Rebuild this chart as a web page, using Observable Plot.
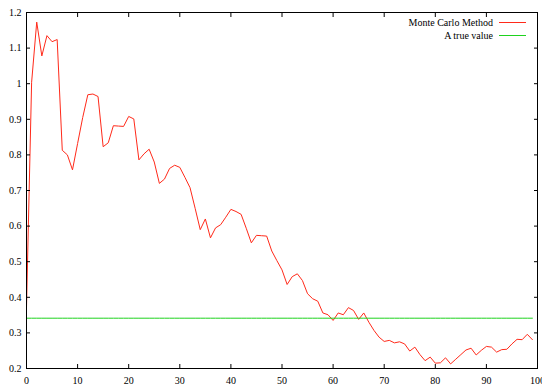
<!DOCTYPE html>
<html><head><meta charset="utf-8">
<script src="https://cdn.jsdelivr.net/npm/d3@7"></script>
<script src="https://cdn.jsdelivr.net/npm/@observablehq/plot@0.6"></script>
<style>
body{margin:0;background:#fff;}
#wrap{position:relative;width:542px;height:390px;overflow:hidden;}
#wrap svg, #wrap svg text{font-family:"Liberation Serif","Times New Roman",serif !important;font-size:10px;}
#legend{position:absolute;top:16px;right:16px;font-family:"Liberation Serif","Times New Roman",serif;font-size:10px;color:#000;}
.row{display:flex;align-items:center;justify-content:flex-end;height:13px;}
.sw{display:inline-block;width:27px;height:0;margin-left:6px;border-top:1px solid;}
</style>
</head><body>
<div id="wrap"><div id="legend"></div></div>
<script>
const seriesNames = ["Monte Carlo Method", "A true value"];
const seriesColors = ["#ff2a1a", "#1ed21e"];
const trueValue = 0.3413;
const mcValues = [
 0.37, 1.004, 1.173, 1.078, 1.135, 1.118, 1.124, 0.813, 0.800, 0.758,
 0.832, 0.905, 0.969, 0.971, 0.964, 0.823, 0.834, 0.882, 0.881, 0.880,
 0.908, 0.901, 0.786, 0.803, 0.816, 0.780, 0.720, 0.732, 0.762, 0.771,
 0.765, 0.737, 0.708, 0.650, 0.590, 0.620, 0.567, 0.595, 0.604, 0.625,
 0.647, 0.641, 0.633, 0.594, 0.553, 0.574, 0.573, 0.572, 0.530, 0.503,
 0.477, 0.436, 0.458, 0.466, 0.447, 0.410, 0.396, 0.389, 0.356, 0.351,
 0.335, 0.356, 0.351, 0.371, 0.363, 0.338, 0.356, 0.330, 0.307, 0.288,
 0.276, 0.279, 0.272, 0.275, 0.269, 0.249, 0.260, 0.239, 0.222, 0.232,
 0.215, 0.216, 0.230, 0.213, 0.226, 0.239, 0.252, 0.257, 0.238, 0.251,
 0.262, 0.260, 0.246, 0.253, 0.254, 0.269, 0.282, 0.281, 0.296, 0.281
];
const xTicks = [0,10,20,30,40,50,60,70,80,90,100];
const yTicks = [0.2,0.3,0.4,0.5,0.6,0.7,0.8,0.9,1.0,1.1,1.2];

const mc = mcValues.map((v,i) => ({x:i, y:v}));
const tv = mcValues.map((v,i) => ({x:i, y:trueValue}));

const fmt = d => String(+d.toFixed(1));
const plot = Plot.plot({
  width: 542, height: 390,
  marginLeft: 26, marginRight: 5, marginTop: 12, marginBottom: 22,
  style: {fontFamily: '"Liberation Serif","Times New Roman",serif', fontSize: "10px", background: "#fff", color: "#000"},
  x: {domain: [0,100]},
  y: {domain: [0.2,1.2]},
  marks: [
    Plot.line(mc, {x:"x", y:"y", stroke: seriesColors[0], strokeWidth: 1}),
    Plot.line(tv, {x:"x", y:"y", stroke: seriesColors[1], strokeWidth: 1}),
    Plot.axisX({anchor:"bottom", ticks: xTicks, tickSize: -4, tickPadding: 12, label: null, tickFormat: d => String(d)}),
    Plot.axisX({anchor:"top", ticks: xTicks, tickSize: -4, label: null, tickFormat: () => ""}),
    Plot.axisY({anchor:"left", ticks: yTicks, tickSize: -4, tickPadding: 9, label: null, tickFormat: fmt}),
    Plot.axisY({anchor:"right", ticks: yTicks, tickSize: -4, label: null, tickFormat: () => ""}),
    Plot.frame({stroke: "#000", strokeWidth: 1})
  ]
});
document.getElementById("wrap").prepend(plot);
const lg = document.getElementById("legend");
seriesNames.forEach((n,i) => {
  const r = document.createElement("div"); r.className = "row";
  const t = document.createElement("span"); t.textContent = n;
  const s = document.createElement("span"); s.className = "sw"; s.style.borderTopColor = seriesColors[i];
  r.appendChild(t); r.appendChild(s); lg.appendChild(r);
});
</script>
</body></html>
